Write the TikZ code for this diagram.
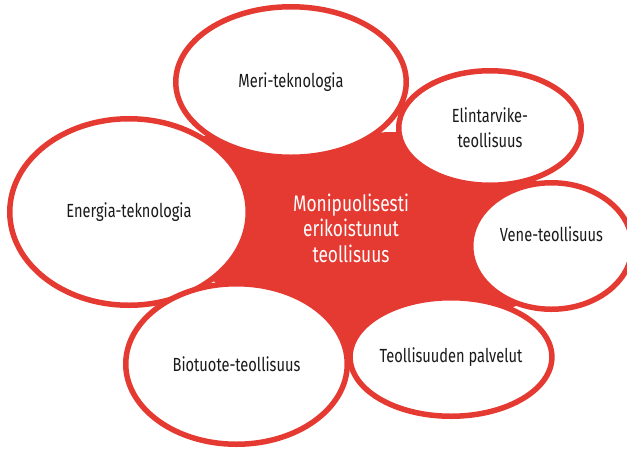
\documentclass[tikz,border=0pt]{standalone}
\usepackage{fontspec}
\setmainfont{Fira Sans}[FakeStretch=0.77]
\definecolor{hubred}{HTML}{E53A32}
\definecolor{labelink}{HTML}{1A1A1A}
\usetikzlibrary{shapes.geometric,backgrounds}
\tikzset{
    sector/.style={
        ellipse,
        draw=hubred,
        fill=white,
        line width=5.5pt,
        inner sep=0pt,
        align=center,
        text=labelink,
        font=\fontsize{19}{25}\selectfont
    },
    hubtext/.style={
        align=center,
        text=white,
        font=\fontsize{22.5}{25.5}\selectfont
    }
}

\begin{document}
\begin{tikzpicture}[x=1pt,y=-1pt]
    \useasboundingbox (0,0) rectangle (627,448);
    \clip (0,0) rectangle (627,448);

    % gaps between neighbouring bubbles, the red centre runs through them
    \coordinate (gapEM) at (204,136);
    \coordinate (gapML) at (396,132);
    \coordinate (gapLV) at (543,183);
    \coordinate (gapVP) at (516,306);
    \coordinate (gapPB) at (353,362);
    \coordinate (gapBE) at (213,281);

    \node[sector,minimum width=238.5pt,minimum height=186.5pt] (energia) at (129,212)
        {Energia-teknologia};
    \node[sector,minimum width=230.5pt,minimum height=150.5pt] (meri) at (291,82)
        {Meri-teknologia};
    \node[sector,minimum width=182.5pt,minimum height=114.5pt] (elintarvike) at (490,128)
        {Elintarvike-\\teollisuus};
    \node[sector,minimum width=161.5pt,minimum height=126.5pt] (vene) at (551.5,246)
        {\raisebox{5pt}[0pt][0pt]{Vene-teollisuus}};
    \node[sector,minimum width=192.5pt,minimum height=118.5pt] (palvelut) at (451,357)
        {Teollisuuden palvelut};
    \node[sector,minimum width=221.5pt,minimum height=160.5pt] (biotuote) at (236.5,364)
        {Biotuote-teollisuus};

    \begin{scope}[on background layer]
        \fill[hubred] (gapEM) -- (gapML) -- (gapLV) -- (gapVP) -- (gapPB) -- (gapBE) -- cycle;
    \end{scope}

    \node[hubtext] (hub) at (351,228) {Monipuolisesti\\erikoistunut\\teollisuus};
\end{tikzpicture}
\end{document}
